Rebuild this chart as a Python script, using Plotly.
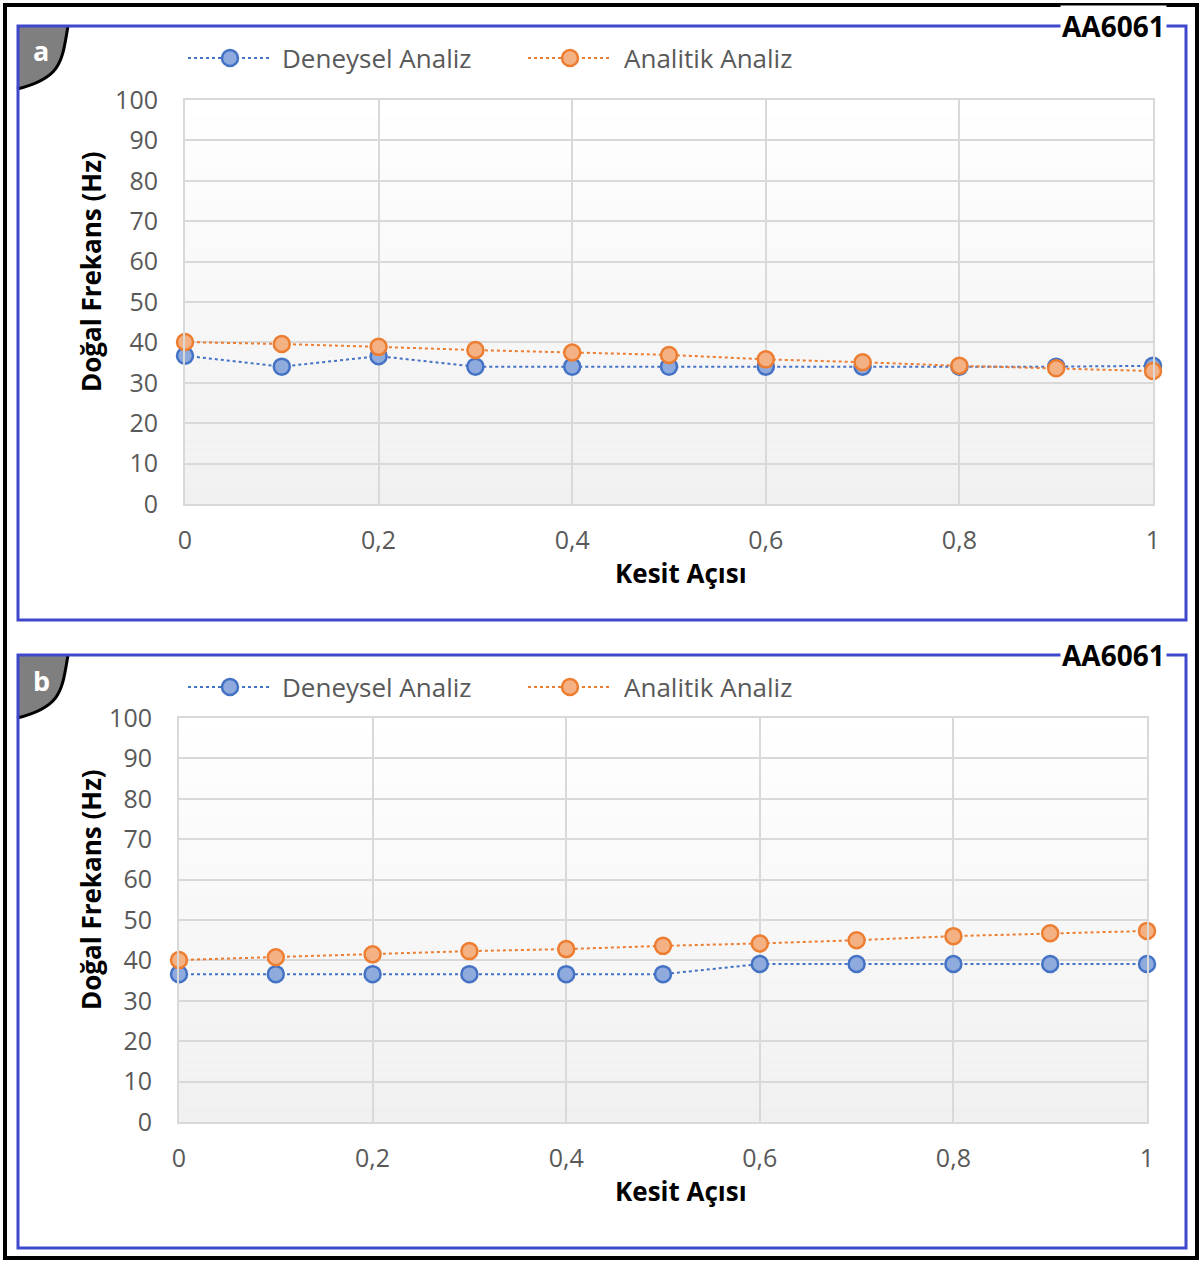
import plotly.graph_objects as go

W, H = 1202, 1261

# ---------------- data ----------------
kesit_acisi = [0.0, 0.1, 0.2, 0.3, 0.4, 0.5, 0.6, 0.7, 0.8, 0.9, 1.0]
a_deneysel = [36.7, 34.0, 36.6, 34.0, 34.0, 34.0, 34.0, 34.0, 34.0, 34.0, 34.2]
a_analitik = [40.1, 39.6, 38.9, 38.1, 37.5, 36.9, 35.8, 35.1, 34.2, 33.6, 32.9]
b_deneysel = [36.6, 36.6, 36.6, 36.6, 36.6, 36.6, 39.1, 39.1, 39.1, 39.1, 39.1]
b_analitik = [40.1, 40.8, 41.5, 42.3, 42.8, 43.6, 44.2, 45.0, 46.0, 46.7, 47.3]
y_tick_vals = [0, 10, 20, 30, 40, 50, 60, 70, 80, 90, 100]
x_tick_vals = [0, 0.2, 0.4, 0.6, 0.8, 1.0]
x_tick_text = ["0", "0,2", "0,4", "0,6", "0,8", "1"]
series_names = ["Deneysel Analiz", "Analitik Analiz"]
panel_labels = ["a", "b"]
alloy = "AA6061"
x_title = "Kesit Açısı"
y_title = "Doğal Frekans (Hz)"

FONT = "Open Sans, sans-serif"
GRID = "#d9d9d9"
TICKC = "#595959"
BLUE_LINE, BLUE_FILL = "#4472c4", "#8faadc"
ORNG_LINE, ORNG_FILL = "#ed7d31", "#f4b183"
PANEL_C = "#3f48cc"


def px(x):
    return x / W


def py(y):
    return 1 - y / H


fig = go.Figure()

panels = [
    dict(xa="x", ya="y", den=a_deneysel, ana=a_analitik,
         xdom=(185, 1153), ydom=(504, 100), top=26, bot=620),
    dict(xa="x2", ya="y2", den=b_deneysel, ana=b_analitik,
         xdom=(179, 1147), ydom=(1122, 718), top=655, bot=1248),
]

shapes = []
annotations = []


def ann(text, x, y, size, color, xanchor="center", **kw):
    annotations.append(dict(text=text, x=px(x), y=py(y), xref="paper", yref="paper",
                            xanchor=xanchor, yanchor="middle", showarrow=False,
                            font=dict(family=FONT, size=size, color=color), **kw))


for i, p in enumerate(panels):
    for vals, name, lc, fc in [(p["den"], series_names[0], BLUE_LINE, BLUE_FILL),
                               (p["ana"], series_names[1], ORNG_LINE, ORNG_FILL)]:
        fig.add_trace(go.Scatter(
            x=kesit_acisi, y=vals, name=name, mode="lines+markers",
            xaxis=p["xa"], yaxis=p["ya"], cliponaxis=False, showlegend=False,
            line=dict(color=lc, width=2, dash="dot"),
            marker=dict(size=16, color=fc, line=dict(color=lc, width=2.5)),
        ))

    # gradient background
    n = 50
    for k in range(n):
        y0 = 100 * k / n
        y1 = 100 * (k + 1) / n
        t = (k + 0.5) / n
        g = int(round(240 + 15 * t))
        shapes.append(dict(type="rect", xref=p["xa"], yref=p["ya"], x0=0, x1=1,
                           y0=y0, y1=y1, fillcolor=f"rgb({g},{g},{g})",
                           line=dict(width=0), layer="below"))

    top, bot = p["top"], p["bot"]
    # tab
    path = (f"M {px(18)},{py(top)} L {px(68)},{py(top)} "
            f"C {px(62)},{py(top+35)} {px(62)},{py(top+52)} {px(17)},{py(top+63)} Z")
    shapes.append(dict(type="path", xref="paper", yref="paper", path=path,
                       fillcolor="#7f7f7f", line=dict(width=0), layer="above"))
    curve = (f"M {px(68)},{py(top)} "
             f"C {px(62)},{py(top+35)} {px(62)},{py(top+52)} {px(17)},{py(top+63)}")
    shapes.append(dict(type="path", xref="paper", yref="paper", path=curve,
                       line=dict(color="black", width=3), layer="above"))
    # panel border
    shapes.append(dict(type="rect", xref="paper", yref="paper",
                       x0=px(18), x1=px(1186), y0=py(bot), y1=py(top),
                       line=dict(color=PANEL_C, width=3), layer="above"))
    ann(f"<b>{panel_labels[i]}</b>", 41, top + 25, 27, "white")
    ann(f"<b>{alloy}</b>", 1113, top, 28, "black", bgcolor="white", borderpad=1)

    # custom legend
    ly = top + 32
    for (x0, xm, x1, xt), name, lc, fc in [((188, 230, 272, 283), series_names[0], BLUE_LINE, BLUE_FILL),
                                           ((528, 570, 612, 625), series_names[1], ORNG_LINE, ORNG_FILL)]:
        shapes.append(dict(type="line", xref="paper", yref="paper",
                           x0=px(x0), x1=px(x1), y0=py(ly), y1=py(ly),
                           line=dict(color=lc, width=2, dash="dot")))
        shapes.append(dict(type="circle", xref="paper", yref="paper",
                           xsizemode="pixel", ysizemode="pixel",
                           xanchor=px(xm), yanchor=py(ly),
                           x0=-8, x1=8, y0=-8, y1=8,
                           fillcolor=fc, line=dict(color=lc, width=2.5)))
        ann(name, xt - 3, ly, 26, TICKC, xanchor="left")

    # axis titles
    ann(f"<b>{x_title}</b>", 681, p["ydom"][0] + 69, 26, "black")
    yc = (p["ydom"][0] + p["ydom"][1]) / 2
    ann(f"<b>{y_title}</b>", 91, yc - 30, 26, "black", textangle=-90)

# outer black frame
shapes.append(dict(type="rect", xref="paper", yref="paper",
                   x0=px(5), x1=px(1197), y0=py(1258), y1=py(5),
                   line=dict(color="black", width=4), layer="above"))

axis_common = dict(showgrid=True, gridcolor=GRID, gridwidth=2, zeroline=False,
                   showline=True, linecolor=GRID, linewidth=2, mirror=True,
                   automargin=False,
                   ticks="", tickfont=dict(family=FONT, size=25, color=TICKC))

layout = dict(
    width=W, height=H, margin=dict(l=0, r=0, t=0, b=0, autoexpand=False),
    paper_bgcolor="white", plot_bgcolor="white",
    shapes=shapes, annotations=annotations, showlegend=False,
)
for i, p in enumerate(panels):
    sx = "" if i == 0 else "2"
    layout[f"xaxis{sx}"] = dict(axis_common, domain=[px(p["xdom"][0]), px(p["xdom"][1])],
                                anchor=f"y{sx}", range=[0, 1], tickvals=x_tick_vals,
                                ticktext=x_tick_text, ticklabelstandoff=13)
    layout[f"yaxis{sx}"] = dict(axis_common, domain=[py(p["ydom"][0]), py(p["ydom"][1])],
                                anchor=f"x{sx}", range=[0, 100], tickvals=y_tick_vals,
                                ticklabelstandoff=20)

fig.update_layout(**layout)
fig.write_html("out.html", config={"displayModeBar": False, "displaylogo": False},
               post_script="document.body.style.margin='0px';")
